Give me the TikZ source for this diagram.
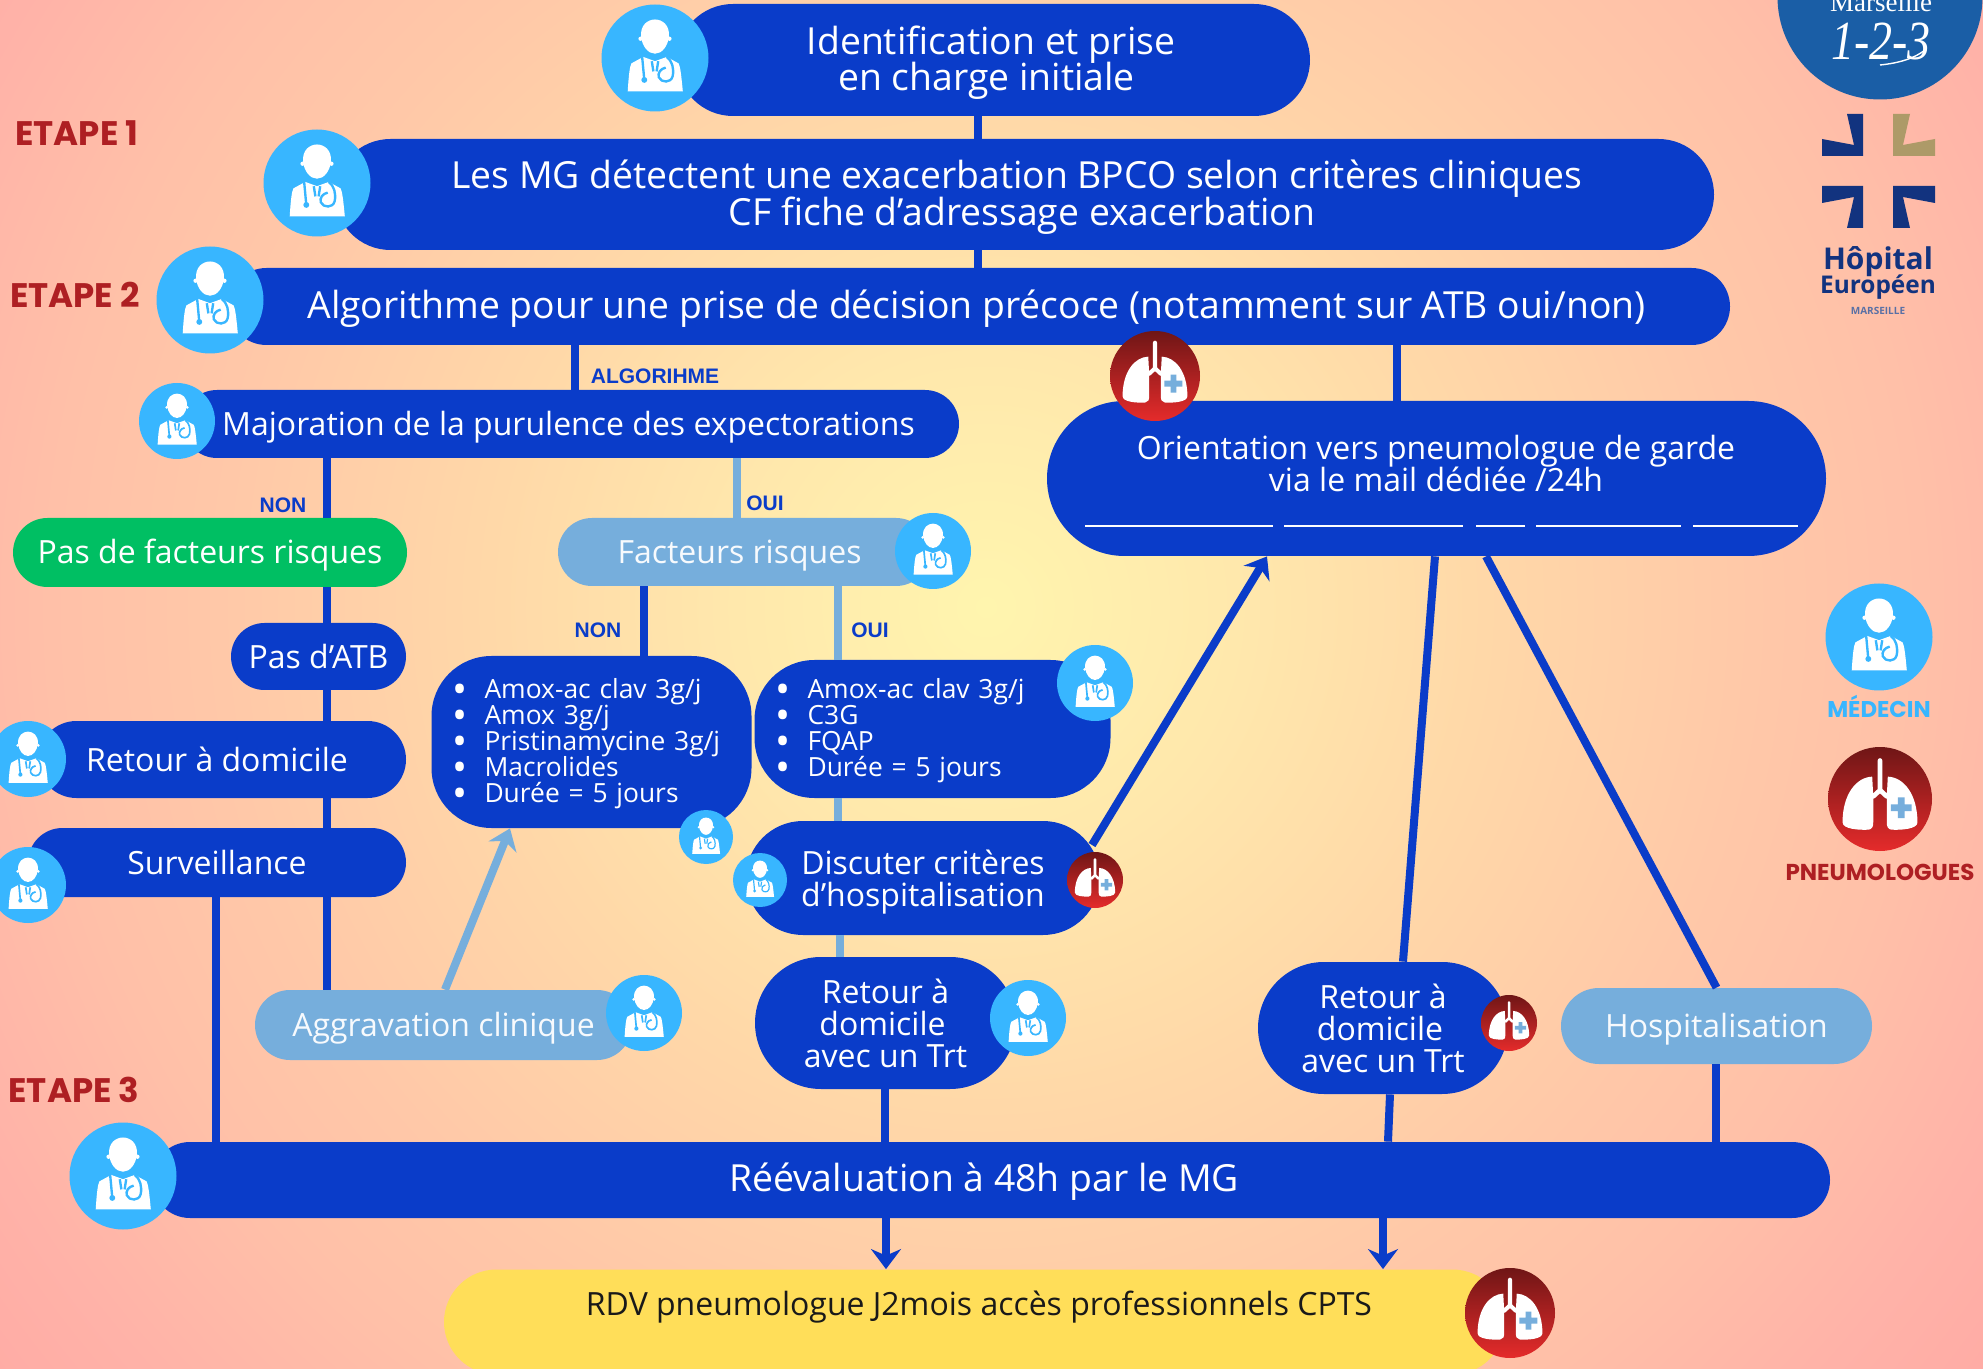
\documentclass[tikz,border=0pt]{standalone}
\usepackage{fontspec}
\setmainfont{Open Sans}
\newfontfamily\headfont{Liberation Sans}
\newfontfamily\etapefont{Poppins}
\newfontfamily\logofont{Liberation Serif}
\usetikzlibrary{shapes.misc,arrows.meta,positioning}
\definecolor{PillBlue}{HTML}{0A3CC9}
\definecolor{DocSky}{HTML}{38B6FF}
\definecolor{SoftBlue}{HTML}{76AEDC}
\definecolor{RiskGreen}{HTML}{00BF63}
\definecolor{RdvYellow}{HTML}{FFDE59}
\definecolor{LungDark}{HTML}{6F1616}
\definecolor{LungRed}{HTML}{E52B2B}
\definecolor{StepRed}{HTML}{AE1F23}
\definecolor{LogoBlue}{HTML}{1A5EA6}
\definecolor{LogoNavy}{HTML}{12337F}
\definecolor{LogoGold}{HTML}{AD9A68}
\pgfdeclareradialshading{bgglow}{\pgfpointorigin}{
  rgb(0bp)=(1,0.961,0.682);
  rgb(5.2bp)=(1,0.91,0.675);
  rgb(10.4bp)=(1,0.847,0.659);
  rgb(16bp)=(1,0.784,0.659);
  rgb(19.5bp)=(1,0.753,0.659);
  rgb(23.5bp)=(1,0.70,0.659);
  rgb(27bp)=(1,0.665,0.643);
  rgb(50bp)=(1,0.665,0.643)}
\newcommand{\tightlines}{\lineskiplimit=-20pt\relax}
\newcommand{\docglyph}{
  \fill[white] (0,0.08) .. controls (-0.13,0.08) and (-0.24,0.22) .. (-0.26,0.4) .. controls (-0.28,0.62) and (-0.13,0.72) .. (0,0.72) .. controls (0.13,0.72) and (0.28,0.62) .. (0.26,0.4) .. controls (0.24,0.22) and (0.13,0.08) .. (0,0.08) -- cycle;
  \fill[white] (-0.27,0.36) circle (0.04) (0.27,0.36) circle (0.04);
  \fill[white] (-0.51,-0.625) .. controls (-0.49,-0.3) and (-0.47,-0.15) .. (-0.44,-0.1) -- (-0.22,0.02) -- (0,-0.06) -- (0.22,0.02) -- (0.44,-0.1) .. controls (0.47,-0.15) and (0.49,-0.3) .. (0.52,-0.625) -- cycle;
  \draw[DocSky] (-0.24,0.02) -- (-0.2,-0.41);
  \fill[DocSky] (-0.2,-0.41) circle (0.055);
  \draw[DocSky] (-0.06,-0.06) -- (-0.03,-0.25);
  \draw[DocSky] (0.06,-0.06) -- (0.03,-0.25);
  \draw[DocSky] (0.22,0.02) .. controls (0.32,-0.05) and (0.36,-0.2) .. (0.33,-0.34) .. controls (0.3,-0.47) and (0.12,-0.47) .. (0.07,-0.36) .. controls (0.05,-0.28) and (0.1,-0.2) .. (0.2,-0.18);
}
\newcommand{\lungglyph}{
  \fill[white] (-0.15,0.43) .. controls (-0.45,0.42) and (-0.72,0.1) .. (-0.72,-0.45) .. controls (-0.72,-0.58) and (-0.4,-0.6) .. (-0.22,-0.59) .. controls (-0.15,-0.58) and (-0.13,-0.53) .. (-0.13,-0.45) -- (-0.13,0.05) -- cycle;
  \fill[white] (0.15,0.43) .. controls (0.45,0.42) and (0.72,0.1) .. (0.72,-0.45) .. controls (0.72,-0.58) and (0.4,-0.6) .. (0.22,-0.59) .. controls (0.15,-0.58) and (0.13,-0.53) .. (0.13,-0.45) -- (0.13,0.05) -- cycle;
  \draw[white,line cap=round] (0,0.74) -- (0,0.17) -- (-0.13,0.05);
  \draw[white,line cap=round] (0,0.17) -- (0.13,0.05);
  \fill[SoftBlue] (0.21,-0.235) rectangle (0.61,-0.105) (0.345,-0.37) rectangle (0.475,0.03);
}
\newcommand{\itemdot}{\makebox[16pt][l]{\raisebox{-2.5pt}[0pt][0pt]{\fontsize{20}{13}\selectfont•}}}
\begin{document}
\begin{tikzpicture}[
  x=0.5pt, y=-0.5pt,
  pill/.style={rounded rectangle, fill=PillBlue, text=white, inner sep=0pt, align=center},
  softpill/.style={pill, fill=SoftBlue, text=white!94!SoftBlue},
  sunk/.style={execute at begin node={\rule{0pt}{#1}}},
  listbox/.style={rectangle, rounded corners=30pt, fill=PillBlue, text=white, align=left, inner ysep=0pt, font=\fontsize{13.2}{13}\selectfont\tightlines, sunk=0.9em},
  txtL/.style={font=\fontsize{18.67}{18.3}\selectfont\tightlines, sunk=0.88em},
  txtM/.style={font=\fontsize{16}{16}\selectfont\tightlines},
  doc/.style={circle, fill=DocSky, inner sep=0pt, minimum size=#1*1pt, path picture={\begin{scope}[shift={(path picture bounding box.center)}, x=#1*0.5pt, y=#1*0.5pt, line width=#1*0.022pt] \docglyph \end{scope}}},
  lung/.style={circle, top color=LungDark, bottom color=LungRed, inner sep=0pt, minimum size=#1*1pt, path picture={\begin{scope}[shift={(path picture bounding box.center)}, x=#1*0.5pt, y=#1*0.5pt, line width=#1*0.045pt] \lungglyph \end{scope}}},
  link/.style={PillBlue, line width=4pt},
  softlink/.style={SoftBlue, line width=4pt},
  arrow/.style={-{Stealth[length=10pt,width=15pt]}, PillBlue, line width=4pt},
  softarrow/.style={arrow, SoftBlue},
  etape/.style={font=\etapefont\bfseries\fontsize{17}{17}\selectfont, text=StepRed, inner sep=0pt},
  tag/.style={font=\headfont\bfseries\fontsize{10.5}{10.5}\selectfont, text=PillBlue, inner sep=0pt},
  blank/.style={white, line width=1.2pt}
]
\useasboundingbox (0,0) rectangle (1983,1369);

% Background
\begin{scope}
\clip (0,0) rectangle (1983,1369);
\shade[shading=bgglow] (-214,-593) rectangle (2186,1807);
\end{scope}

% Logos
\node[circle, fill=LogoBlue, minimum size=102.5pt, inner sep=0pt] (univ) at (1880,-3) {};
\node[font=\logofont\fontsize{13.5}{13.5}\selectfont, text=white, inner sep=0pt] (univname) at (1881,2) {Marseille};
\node[font=\logofont\itshape\fontsize{23}{23}\selectfont, text=white, inner sep=0pt, yscale=1.2, transform shape] (univnum) at (1881,42) {1-2-3};
\draw[white, line width=0.7pt] (1880,65) .. controls (1900,63) and (1915,58) .. (1925,50);
\fill[LogoNavy] (1847,114) -- (1863,114) -- (1863,156) -- (1822,156) -- (1822,139) -- (1854,145) -- cycle;
\fill[LogoGold] (1893,114) -- (1910,114) -- (1903,145) -- (1935,139) -- (1935,156) -- (1893,156) -- cycle;
\fill[LogoNavy] (1822,186) -- (1863,186) -- (1863,228) -- (1847,228) -- (1854,197) -- (1822,203) -- cycle;
\fill[LogoNavy] (1893,186) -- (1935,186) -- (1935,203) -- (1903,197) -- (1910,228) -- (1893,228) -- cycle;
\node[font=\bfseries\fontsize{15}{15}\selectfont, text=LogoNavy, inner sep=0pt] (hopital) at (1878,262) {Hôpital};
\node[font=\bfseries\fontsize{12.2}{13}\selectfont, text=LogoNavy, inner sep=0pt] (europeen) at (1878,287) {Européen};
\node[font=\bfseries\fontsize{5}{5}\selectfont, text=LogoNavy!70, inner sep=0pt] (marseille) at (1878,311) {MARSEILLE};

% Steps
\node[etape] (stepa) at (77,133) {ETAPE 1};
\node[etape] (stepb) at (75,295) {ETAPE 2};
\node[etape] (stepc) at (74,1090) {ETAPE 3};

% Main pills
\node[pill, txtL, sunk=35.1pt, minimum width=316.5pt, minimum height=56pt] (ident) at (993.5,60) {\hspace*{-2.5pt}Identification et prise\\\hspace*{-7pt}en charge initiale};
\node[pill, txtL, sunk=35.1pt, minimum width=689.5pt, minimum height=55.5pt] (detect) at (1024.5,194.5) {\hspace*{-7.6pt}Les MG détectent une exacerbation BPCO selon critères cliniques\\\hspace*{-2.5pt}CF fiche d’adressage exacerbation};
\node[pill, txtL, minimum width=751pt, minimum height=38.5pt] (algo) at (979,306.5) {\hspace*{-2.5pt}Algorithme pour une prise de décision précoce (notamment sur ATB oui/non)};
\node[pill, txtM, sunk=0.95em, minimum width=388pt, minimum height=34pt] (purul) at (571,424) {\hspace*{-2.5pt}Majoration de la purulence des expectorations};

% Left branch
\node[pill, txtM, sunk=0.95em, fill=RiskGreen, minimum width=197pt, minimum height=34.5pt] (nofact) at (210,552.5) {Pas de facteurs risques};
\node[pill, txtM, minimum width=87.5pt, minimum height=33.5pt] (noatb) at (318.5,656.5) {Pas d’ATB};
\node[pill, txtM, minimum width=184pt, minimum height=38.5pt] (home) at (222,759.5) {\hspace*{-5pt}Retour à domicile};
\node[pill, txtM, minimum width=189pt, minimum height=34.5pt] (watch) at (217,862.5) {Surveillance};
\node[softpill, txtM, sunk=0.95em, minimum width=188.5pt, minimum height=35pt] (worse) at (443.5,1025) {Aggravation clinique};

% Middle branch
\node[softpill, txtM, sunk=0.95em, minimum width=186pt, minimum height=34pt] (fact) at (744,552) {\hspace*{-4.4pt}Facteurs risques};
\node[listbox, inner xsep=10.5pt, text width=139pt, minimum height=86pt] (amoxa) at (591.5,742) {\itemdot Amox-ac clav 3g/j\\\itemdot Amox 3g/j\\\itemdot Pristinamycine 3g/j\\\itemdot Macrolides\\\itemdot Durée = 5 jours};
\node[listbox, inner xsep=10.5pt, text width=157pt, minimum height=69pt] (amoxb) at (932.5,729) {\itemdot Amox-ac clav 3g/j\\\itemdot C3G\\\itemdot FQAP\\\itemdot Durée = 5 jours};
\node[pill, txtM, sunk=32.6pt, minimum width=177pt, minimum height=57pt] (crit) at (923,878) {Discuter critères\\d’hospitalisation};
\node[pill, txtM, minimum width=130.5pt, minimum height=66pt] (homea) at (885.5,1023) {Retour à\\\hspace*{-3pt}domicile\\avec un Trt};

% Right branch
\node[pill, minimum width=389.5pt, minimum height=77.5pt] (orient) at (1436.5,478.5) {};
\node[txtM, text=white, align=center, inner sep=0pt] (orienttxt) at (1436,464) {Orientation vers pneumologue de garde\\via le mail dédiée /24h};
\node[pill, txtM, minimum width=125pt, minimum height=66pt] (homeb) at (1383,1028) {Retour à\\\hspace*{-3pt}domicile\\avec un Trt};
\node[softpill, txtM, sunk=0.95em, minimum width=155.5pt, minimum height=38pt] (hosp) at (1716.5,1026) {Hospitalisation};

% Bottom pills
\node[pill, txtL, minimum width=839pt, minimum height=38pt] (reeval) at (991,1180) {\hspace*{-7pt}Réévaluation à 48h par le MG};
\node[pill, fill=RdvYellow, minimum width=530.5pt, minimum height=52.5pt] (rdv) at (974.5,1322) {};
\node[txtM, text=black!90, inner sep=0pt] (rdvtxt) at (979,1307) {RDV pneumologue J2mois accès professionnels CPTS};

% Blank rules
\draw[blank] (1085,526) -- (1273,526);
\draw[blank] (1284,526) -- (1463,526);
\draw[blank] (1476,526) -- (1525,526);
\draw[blank] (1536,526) -- (1681,526);
\draw[blank] (1693,526) -- (1798,526);

% Arrows
\draw[link] (978,0 |- ident.south) -- (978,0 |- detect.north);
\draw[link] (978,0 |- detect.south) -- (978,0 |- algo.north);
\draw[link] (575,0 |- algo.south) -- (575,0 |- purul.north);
\draw[link] (1397,0 |- algo.south) -- (1397,0 |- orient.north);
\draw[link] (327,0 |- purul.south) -- (327,0 |- nofact.north);
\draw[softlink] (737,0 |- purul.south) -- (737,0 |- fact.north);
\draw[link] (327,0 |- nofact.south) -- (327,0 |- noatb.north);
\draw[link] (327,0 |- noatb.south) -- (327,0 |- home.north);
\draw[link] (327,0 |- home.south) -- (327,0 |- watch.north);
\draw[link] (327,0 |- watch.south) -- (327,0 |- worse.north);
\draw[link] (216,0 |- watch.south) -- (216,0 |- reeval.north);
\draw[link] (644,0 |- fact.south) -- (644,0 |- amoxa.north);
\draw[softlink] (838,0 |- fact.south) -- (838,0 |- amoxb.north);
\draw[softlink] (838,0 |- amoxb.south) -- (838,0 |- crit.north);
\draw[softlink] (840,0 |- crit.south) -- (840,0 |- homea.north);
\draw[link] (885,0 |- homea.south) -- (885,0 |- reeval.north);
\draw[link] ([xshift=-0.75pt]orient.south) -- ([xshift=10pt]homeb.north);
\draw[link] ([xshift=24.75pt]orient.south) -- (hosp.north);
\draw[link] ([xshift=3.5pt]homeb.south) -- ([xshift=198.5pt]reeval.north);
\draw[link] (1716,0 |- hosp.south) -- (1716,0 |- reeval.north);
\draw[arrow] ([xshift=84.5pt,yshift=16.5pt]crit.center) -- ([xshift=-84.75pt]orient.south);
\draw[softarrow] ([xshift=0.75pt]worse.north) -- ([xshift=-40.75pt]amoxa.south);
\draw[arrow] (886,0 |- reeval.south) -- (886,0 |- rdv.north);
\draw[arrow] (1383,0 |- reeval.south) -- (1383,0 |- rdv.north);

% Tags
\node[tag] (tagalgo) at (655,376) {ALGORIHME};
\node[tag] (tagnona) at (283,505) {NON};
\node[tag] (tagouia) at (765,503) {OUI};
\node[tag] (tagnonb) at (598,630) {NON};
\node[tag] (tagouib) at (870,630) {OUI};

% Doctor icons
\node[doc=53.5] (docident) at (655,58) {};
\node[doc=53.5] (docdetect) at (317,183) {};
\node[doc=53.5] (docalgo) at (210,300) {};
\node[doc=38] (docpurul) at (177,421) {};
\node[doc=38] (docfact) at (933,551) {};
\node[doc=38] (docamoxb) at (1095,683) {};
\node[doc=27] (docamoxa) at (706,837) {};
\node[doc=38] (dochome) at (28,759) {};
\node[doc=38] (docwatch) at (28,885) {};
\node[doc=27] (doccrit) at (760,880) {};
\node[doc=38] (docworse) at (644,1013) {};
\node[doc=38] (dochomea) at (1028,1018) {};
\node[doc=53.5] (docreeval) at (123,1176) {};

% Lung icons
\node[lung=45] (lungorient) at (1155,376) {};
\node[lung=28] (lungcrit) at (1095,880) {};
\node[lung=28] (lunghomeb) at (1509,1023) {};
\node[lung=45] (lungrdv) at (1510,1313) {};

% Legend
\node[doc=53.5] (docleg) at (1879,637) {};
\node[font=\etapefont\bfseries\fontsize{11.4}{11.4}\selectfont, text=DocSky, inner sep=0pt, below=2pt of docleg] (medecin) {MÉDECIN};
\node[lung=52] (lungleg) at (1880,799) {};
\node[font=\etapefont\bfseries\fontsize{11.5}{11.5}\selectfont, text=StepRed, inner sep=0pt, below=6pt of lungleg] (pneumo) {PNEUMOLOGUES};

\end{tikzpicture}
\end{document}
